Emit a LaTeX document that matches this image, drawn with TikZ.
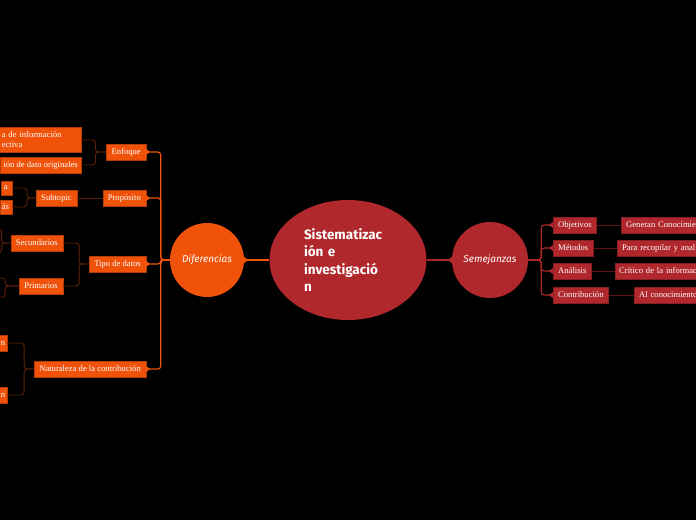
\documentclass[tikz,border=0pt]{standalone}
\usepackage{fontspec}
\usepackage{tikz}
\usetikzlibrary{arrows.meta, positioning, shapes.geometric}
\newfontfamily\boxfont{Liberation Serif}
\newfontfamily\titlefont{Fira Sans}
\definecolor{orng}{HTML}{F0520A}
\definecolor{rojo}{HTML}{B0282B}
\definecolor{brwn}{HTML}{5E2208}
\definecolor{dred}{HTML}{5A1416}

\begin{document}
\begin{tikzpicture}[x=1pt, y=-1pt,
  topic/.style={draw=orng!75!black, fill=orng, text=white, font=\boxfont\fontsize{8.6}{10}\selectfont, inner xsep=5pt, inner ysep=0pt, minimum height=15.5pt},
  rtopic/.style={topic, draw=rojo!75!black, fill=rojo},
  branch/.style={orng, line width=1.2pt, rounded corners=3pt, -{Triangle[reversed, length=4pt, width=6pt]}},
  rbranch/.style={branch, rojo},
  sub/.style={brwn, line width=0.9pt, rounded corners=3pt},
  rsub/.style={dred, line width=0.9pt}]
  % Background
  \useasboundingbox (0,0) rectangle (696,520);
  \fill[black] (0,0) rectangle (696,520);
  \clip (0,0) rectangle (696,520);

  % Central idea
  \node[ellipse, fill=rojo, minimum width=157pt, minimum height=120pt, inner sep=0pt, text=white, text width=88pt, align=left, font=\titlefont\bfseries\fontsize{13.5}{17.5}\selectfont] (ctr) at (348,260) {Sistematizac\\ión e\\investigació\\n};
  \node[circle, fill=orng, minimum size=74pt, text=white, font=\titlefont\itshape\fontsize{10}{12}\selectfont] (dif) at (207,260) {Diferencias};
  \node[circle, fill=rojo, minimum size=76pt, text=white, font=\titlefont\itshape\fontsize{10}{12}\selectfont] (sem) at (490,260) {Semejanzas};
  \draw[branch] (ctr.west) -- (dif.east);
  \draw[rbranch] (ctr.east) -- (sem.west);

  % Diferencias
  \node[topic, anchor=east] (enf) at (146,152) {Enfoque};
  \node[topic, anchor=east] (pro) at (146,198) {Propósito};
  \node[topic, anchor=east] (tip) at (146,264) {Tipo de datos};
  \node[topic, anchor=east] (nat) at (146,369) {Naturaleza de la contribución};
  \foreach \n in {enf, pro, tip, nat}
    \draw[branch] (dif.west) -- ++(-9,0) |- (\n.east);

  \node[topic, anchor=east, minimum height=25pt, text width=74pt, align=left] (enfa) at (81,140) {a de información\\ectiva};
  \node[topic, anchor=east, inner xsep=3pt] (enfb) at (81,165) {ión de dato originales};
  \node[topic, anchor=east] (subt) at (77,198) {Subtopic};
  \node[topic, anchor=east, minimum height=14pt, text width=5pt, align=left, inner xsep=3pt] (suba) at (12,188) {a};
  \node[topic, anchor=east, minimum height=14pt, text width=8pt, align=left, inner xsep=2pt] (subb) at (12,207) {ás};
  \node[topic, anchor=east] (sec) at (63,243) {Secundarios};
  \node[topic, anchor=east] (pri) at (63,286) {Primarios};
  \node[topic, anchor=east, text width=4pt, align=left, inner xsep=2pt] (nata) at (7,343) {n};
  \node[topic, anchor=east, text width=4pt, align=left, inner xsep=2pt] (natb) at (7,395) {n};
  \coordinate (seca) at (-20,229);
  \coordinate (secb) at (-20,253);
  \coordinate (pria) at (-20,278);
  \coordinate (prib) at (-20,297);

  \foreach \n in {enfa, enfb} \draw[sub] (enf.west) -- ++(-11,0) |- (\n.east);
  \draw[sub] (pro.west) -- (subt.east);
  \foreach \n in {suba, subb} \draw[sub] (subt.west) -- ++(-9,0) |- (\n.east);
  \foreach \n in {sec, pri} \draw[sub] (tip.west) -- ++(-10,0) |- (\n.east);
  \foreach \n in {seca, secb} \draw[sub] (sec.west) -- ++(-9,0) |- (\n);
  \foreach \n in {pria, prib} \draw[sub] (pri.west) -- ++(-14,0) |- (\n);
  \foreach \n in {nata, natb} \draw[sub] (nat.west) -- ++(-10,0) |- (\n.east);

  % Semejanzas
  \node[rtopic, anchor=west] (obj) at (553,225) {Objetivos};
  \node[rtopic, anchor=west] (met) at (553,248) {Métodos};
  \node[rtopic, anchor=west] (ana) at (553,271) {Análisis};
  \node[rtopic, anchor=west] (con) at (553,295) {Contribución};
  \foreach \n in {obj, met, ana, con}
    \draw[rbranch] (sem.east) -- ++(13,0) |- (\n.west);

  \node[rtopic, anchor=west, text width=80pt, align=left] (obja) at (621,225) {Generan Conocimie};
  \node[rtopic, anchor=west, text width=80pt, align=left] (meta) at (617,248) {Para recopilar y anal};
  \node[rtopic, anchor=west, text width=80pt, align=left, inner xsep=4pt] (anaa) at (615,271) {Crítico de la informac};
  \node[rtopic, anchor=west, text width=80pt, align=left] (cona) at (634,295) {Al conocimiento};
  \draw[rsub] (obj) -- (obja);
  \draw[rsub] (met) -- (meta);
  \draw[rsub] (ana) -- (anaa);
  \draw[rsub] (con) -- (cona);
\end{tikzpicture}
\end{document}
